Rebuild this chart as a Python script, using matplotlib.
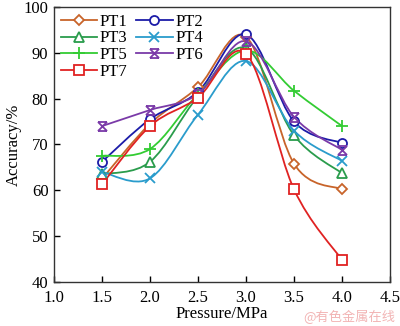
import matplotlib
matplotlib.use("Agg")
import matplotlib.pyplot as plt
from matplotlib.path import Path
from matplotlib.patches import PathPatch
import numpy as np

# Data
pressure = [1.5, 2.0, 2.5, 3.0, 3.5, 4.0]
pt1 = [62.5, 74.5, 82.5, 93.5, 65.8, 60.2]
pt2 = [66.2, 75.5, 81.5, 94.0, 75.0, 70.3]
pt3 = [63.5, 66.2, 80.5, 91.0, 72.0, 63.7]
pt4 = [64.0, 62.6, 76.5, 88.2, 73.0, 66.4]
pt5 = [67.5, 69.0, 81.0, 90.5, 81.7, 74.0]
pt6 = [74.0, 77.5, 81.0, 92.5, 76.0, 68.8]
pt7 = [61.3, 74.0, 80.2, 89.8, 60.2, 44.8]

series = [
    ("PT1", pt1, "#c8642a", "D", 5),
    ("PT2", pt2, "#1c1ca8", "o", 6.5),
    ("PT3", pt3, "#2a9c4c", "^", 6.5),
    ("PT4", pt4, "#2a9ccc", "x", 7),
    ("PT5", pt5, "#33cc33", "+", 8),
    ("PT6", pt6, "#7a3aa8", None, 6.5),
    ("PT7", pt7, "#e02222", "s", 7),
]

# hourglass-like marker for PT6
hourglass = Path(
    [(-1, 1), (1, -1), (-1, -1), (1, 1), (-1, 1), (1, 1), (-1, -1), (1, -1)],
    [Path.MOVETO, Path.LINETO] * 4,
)


def smooth_path(xs, ys):
    # Catmull-Rom through the points, drawn as cubic Bezier segments
    pts = np.column_stack([xs, ys])
    verts = [pts[0]]
    codes = [Path.MOVETO]
    n = len(pts)
    for i in range(n - 1):
        p0 = pts[max(i - 1, 0)]
        p1 = pts[i]
        p2 = pts[i + 1]
        p3 = pts[min(i + 2, n - 1)]
        c1 = p1 + (p2 - p0) / 6.0
        c2 = p2 - (p3 - p1) / 6.0
        verts += [c1, c2, p2]
        codes += [Path.CURVE4] * 3
    return Path(verts, codes)


plt.rcParams["font.family"] = ["Liberation Serif", "DejaVu Serif"]

fig = plt.figure(figsize=(4.0, 3.26), dpi=100)
ax = fig.add_axes([0.135, 0.135, 0.84, 0.844])

handles = {}
for name, vals, col, mk, ms in series:
    ax.add_patch(PathPatch(smooth_path(pressure, vals), facecolor="none",
                           edgecolor=col, linewidth=1.3, zorder=2))
    marker = hourglass if mk is None else mk
    ax.plot(pressure, vals, linestyle="none", marker=marker, markersize=ms,
            markerfacecolor="white" if mk not in ("x", "+") and mk is not None else "none",
            markeredgecolor=col, markeredgewidth=1.3, color=col, zorder=3)
    # legend proxy
    h, = ax.plot([], [], color=col, linewidth=1.3, marker=marker, markersize=ms,
                 markerfacecolor="white", markeredgecolor=col,
                 markeredgewidth=1.3, label=name)
    handles[name] = h

ax.set_xlim(1.0, 4.5)
ax.set_ylim(40, 100)
ax.set_xticks(np.arange(1.0, 4.51, 0.5))
ax.set_yticks(np.arange(40, 101, 10))
ax.set_xticklabels([f"{v:.1f}" for v in np.arange(1.0, 4.51, 0.5)])
ax.tick_params(direction="in", length=4, width=1, labelsize=12, top=False, right=False)
ax.tick_params(axis="x", pad=6)
ax.tick_params(axis="y", pad=4)
for s in ax.spines.values():
    s.set_linewidth(1.0)
    s.set_color("#333333")

ax.set_xlabel("Pressure/MPa", fontsize=12, labelpad=0)
ax.set_ylabel("Accuracy/%", fontsize=12, labelpad=1)

# row-wise legend order: PT1 PT2 / PT3 PT4 / PT5 PT6 / PT7
order = ["PT1", "PT3", "PT5", "PT7", "PT2", "PT4", "PT6"]
ax.legend([handles[k] for k in order], order, loc="upper left", ncol=2,
          frameon=False, fontsize=12, handlelength=2.2, handletextpad=0.15,
          columnspacing=0.5, labelspacing=0.05, borderaxespad=0.2,
          borderpad=0.2)

fig.text(0.988, 0.005, "@有色金属在线", ha="right", va="bottom", fontsize=9.5,
         color="#f2b4b4", family=["Noto Sans CJK SC", "DejaVu Sans"])

fig.savefig("out.png", dpi=100)
